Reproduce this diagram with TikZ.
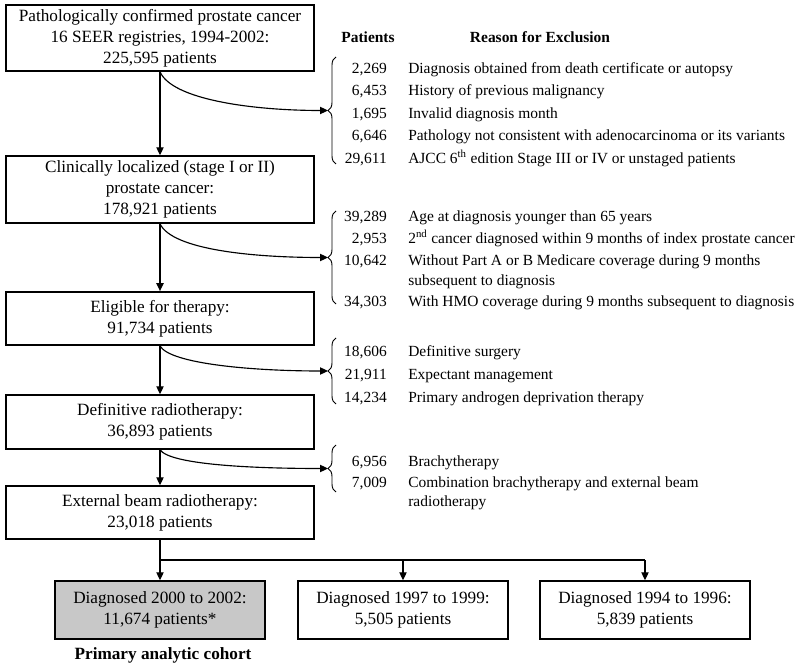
\documentclass[tikz,border=0pt]{standalone}
\usepackage{fontspec}
\setmainfont{Liberation Serif}
\usetikzlibrary{arrows.meta,decorations.pathreplacing}
\definecolor{cohortgray}{RGB}{200,200,200}
\begin{document}
\begin{tikzpicture}[x=0.75pt,y=-0.75pt,
  box/.style={draw,line width=1.1pt,align=center,inner sep=0pt,minimum width=231pt,font=\fontsize{12.9}{15.8}\selectfont},
  sbox/.style={box,minimum width=157.5pt,minimum height=43.5pt},
  conn/.style={line width=0.85pt,-{Triangle[length=6pt,width=5.5pt]}},
  plainline/.style={line width=0.85pt},
  num/.style={anchor=mid east,inner sep=0pt,font=\fontsize{11.6}{14}\selectfont},
  rsn/.style={anchor=mid west,inner sep=0pt,font=\fontsize{11.6}{14}\selectfont},
  hdr/.style={inner sep=0pt,font=\bfseries\fontsize{11.6}{14}\selectfont},
  brc/.style={decorate,decoration={brace,amplitude=6pt},line width=0.7pt},
]
\useasboundingbox (0,0) rectangle (800,666);

% main boxes
\node[box,minimum height=49.5pt] (b1) at (160,38) {Pathologically confirmed prostate cancer\\16 SEER registries, 1994-2002:\\225,595 patients};
\node[box,minimum height=50.25pt] (b2) at (160,189.5) {Clinically localized (stage I or II)\\prostate cancer:\\178,921 patients};
\node[box,minimum height=40pt] (b3) at (160,318.5) {Eligible for therapy:\\91,734 patients};
\node[box,minimum height=40.5pt] (b4) at (160,422) {Definitive radiotherapy:\\36,893 patients};
\node[box,minimum height=39.75pt] (b5) at (160,512.5) {External beam radiotherapy:\\23,018 patients};

\node[sbox,fill=cohortgray] (bA) at (160,610) {Diagnosed 2000 to 2002:\\11,674 patients*};
\node[sbox] (bB) at (403,610) {Diagnosed 1997 to 1999:\\5,505 patients};
\node[sbox] (bC) at (645,610) {Diagnosed 1994 to 1996:\\5,839 patients};
\node[inner sep=0pt,font=\bfseries\fontsize{12.9}{15}\selectfont] (lbl) at (163,655) {Primary analytic cohort};

% headers
\node[hdr] (hp) at (368,37) {Patients};
\node[hdr] (hr) at (540,37) {Reason for Exclusion};

% brace tips
\coordinate (t1) at (328,110.5);
\coordinate (t2) at (328,257.5);
\coordinate (t3) at (328,371);
\coordinate (t4) at (328,468.5);

% braces
\draw[brc] (336,164) -- (336,57);
\draw[brc] (336,304) -- (336,211);
\draw[brc] (336,404) -- (336,338);
\draw[brc] (336,492) -- (336,445);

% group 1
\node[num] (n1a) at (387,70) {2,269};
\node[rsn] (r1a) at (408,70) {Diagnosis obtained from death certificate or autopsy};
\node[num] (n1b) at (387,92.5) {6,453};
\node[rsn] (r1b) at (408,92.5) {History of previous malignancy};
\node[num] (n1c) at (387,115) {1,695};
\node[rsn] (r1c) at (408,115) {Invalid diagnosis month};
\node[num] (n1d) at (387,137.5) {6,646};
\node[rsn] (r1d) at (408,137.5) {Pathology not consistent with adenocarcinoma or its variants};
\node[num] (n1e) at (387,160) {29,611};
\node[rsn] (r1e) at (408,160) {AJCC 6\textsuperscript{th} edition Stage III or IV or unstaged patients};

% group 2
\node[num] (n2a) at (387,218) {39,289};
\node[rsn] (r2a) at (408,218) {Age at diagnosis younger than 65 years};
\node[num] (n2b) at (387,240) {2,953};
\node[rsn] (r2b) at (408,240) {2\textsuperscript{nd} cancer diagnosed within 9 months of index prostate cancer};
\node[num] (n2c) at (387,262) {10,642};
\node[rsn] (r2c) at (408,262) {Without Part A or B Medicare coverage during 9 months};
\node[rsn] (r2d) at (408,282.5) {subsequent to diagnosis};
\node[num] (n2e) at (387,303) {34,303};
\node[rsn] (r2e) at (408,303) {With HMO coverage during 9 months subsequent to diagnosis};

% group 3
\node[num] (n3a) at (387,353) {18,606};
\node[rsn] (r3a) at (408,353) {Definitive surgery};
\node[num] (n3b) at (387,376.5) {21,911};
\node[rsn] (r3b) at (408,376.5) {Expectant management};
\node[num] (n3c) at (387,399.5) {14,234};
\node[rsn] (r3c) at (408,399.5) {Primary androgen deprivation therapy};

% group 4
\node[num] (n4a) at (387,463) {6,956};
\node[rsn] (r4a) at (408,463) {Brachytherapy};
\node[num] (n4b) at (387,484) {7,009};
\node[rsn] (r4b) at (408,484) {Combination brachytherapy and external beam};
\node[rsn] (r4c) at (408,503) {radiotherapy};

% vertical flow
\draw[conn] (b1.south) -- (b2.north);
\draw[conn] (b2.south) -- (b3.north);
\draw[conn] (b3.south) -- (b4.north);
\draw[conn] (b4.south) -- (b5.north);

% exclusion curves
\draw[conn] (b1.south) .. controls +(12,28) and +(-75,0) .. (t1);
\draw[conn] (b2.south) .. controls +(12,26) and +(-75,0) .. (t2);
\draw[conn] (b3.south) .. controls +(10,18) and +(-75,0) .. (t3);
\draw[conn] (b4.south) .. controls +(10,15) and +(-75,0) .. (t4);

% split to cohorts
\coordinate (split) at (160,560);
\draw[conn] (b5.south) -- (bA.north);
\draw[plainline] (split) -- (split -| bC.north);
\draw[conn] (split -| bB.north) -- (bB.north);
\draw[conn] (split -| bC.north) -- (bC.north);
\end{tikzpicture}
\end{document}
